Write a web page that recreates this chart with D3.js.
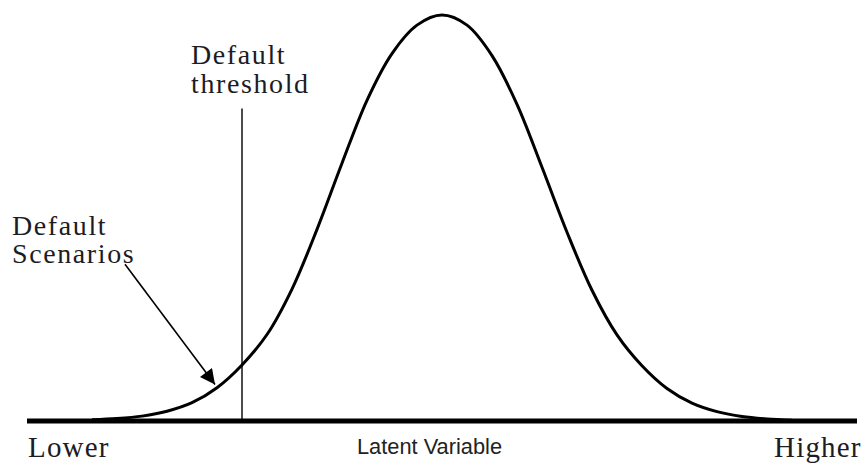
<!DOCTYPE html>
<html>
<head>
<meta charset="utf-8">
<script src="https://cdn.jsdelivr.net/npm/d3@7"></script>
<style>
  body { margin: 0; background: #fff; }
  svg { display: block; }
</style>
</head>
<body>
<svg id="chart" width="866" height="465"></svg>
<script>
// latent variable (in sd units) and curve height (share of the peak)
const latent = [-3.5, -3.25, -3, -2.75, -2.5, -2.25, -2, -1.75, -1.5, -1.25, -1, -0.75, -0.5, -0.25, 0,
                0.25, 0.5, 0.75, 1, 1.25, 1.5, 1.75, 2, 2.25, 2.5, 2.75, 3, 3.25, 3.5];
const density = [0.003, 0.006, 0.012, 0.024, 0.045, 0.082, 0.138, 0.213, 0.325, 0.472, 0.635, 0.79, 0.905, 0.975, 1.0,
                 0.975, 0.9, 0.78, 0.625, 0.465, 0.322, 0.212, 0.136, 0.08, 0.044, 0.023, 0.011, 0.005, 0.002];

const endLabels = ["Lower", "Higher"];
const axisTitle = "Latent Variable";
const thresholdLabel = ["Default", "threshold"];
const scenarioLabel = ["Default", "Scenarios"];
const thresholdAt = -2;      // where the default threshold sits
const thresholdTop = 0.77;   // how far up the threshold line goes
const arrowFrom = [-3.17, 0.386];
const arrowTo = [-2.27, 0.09];

const svg = d3.select("#chart");
const x = d3.scaleLinear().domain([-4.15, 4.15]).range([27, 857]);
const y = d3.scaleLinear().domain([0, 1]).range([421, 15]);

const serif = "'Liberation Serif', 'Times New Roman', serif";

// threshold line
svg.append("line")
  .attr("x1", x(thresholdAt)).attr("x2", x(thresholdAt))
  .attr("y1", y(thresholdTop)).attr("y2", y(0))
  .attr("stroke", "#111").attr("stroke-width", 1.5);

// the bell curve
const pts = latent.map((d, i) => [d, density[i]]);
svg.append("path")
  .datum(pts)
  .attr("fill", "none")
  .attr("stroke", "#000")
  .attr("stroke-width", 3)
  .attr("stroke-linejoin", "round")
  .attr("d", d3.line().x(d => x(d[0])).y(d => y(d[1])).curve(d3.curveCatmullRom));

// base axis
svg.append("line")
  .attr("x1", x.range()[0]).attr("x2", x.range()[1])
  .attr("y1", y(0)).attr("y2", y(0))
  .attr("stroke", "#000").attr("stroke-width", 5);

// arrow pointing at the tail
svg.append("defs").append("marker")
  .attr("id", "head")
  .attr("viewBox", "0 0 10 10")
  .attr("refX", 10).attr("refY", 5)
  .attr("markerWidth", 21).attr("markerHeight", 15)
  .attr("markerUnits", "userSpaceOnUse")
  .attr("orient", "auto")
  .append("path")
  .attr("d", "M0,0 L10,5 L0,10 Z")
  .attr("fill", "#000");

svg.append("line")
  .attr("x1", x(arrowFrom[0])).attr("y1", y(arrowFrom[1]))
  .attr("x2", x(arrowTo[0])).attr("y2", y(arrowTo[1]))
  .attr("stroke", "#000").attr("stroke-width", 1.6)
  .attr("marker-end", "url(#head)");

// labels
function label(lines, lx, ly, gap) {
  const t = svg.append("text")
    .attr("font-family", serif).attr("font-size", 28)
    .attr("letter-spacing", 1.6).attr("fill", "#1c1c24");
  lines.forEach((s, i) => {
    t.append("tspan").attr("x", lx).attr("y", ly + i * gap).text(s);
  });
}
label(thresholdLabel, 191, 64, 29);
label(scenarioLabel, 12, 235, 28);

svg.append("text")
  .attr("x", 28).attr("y", 457)
  .attr("font-family", serif).attr("font-size", 29)
  .attr("letter-spacing", 1.2).attr("fill", "#1c1c24")
  .text(endLabels[0]);
svg.append("text")
  .attr("x", 774).attr("y", 457)
  .attr("font-family", serif).attr("font-size", 29)
  .attr("letter-spacing", 1.2).attr("fill", "#1c1c24")
  .text(endLabels[1]);

svg.append("text")
  .attr("x", 357).attr("y", 454)
  .attr("font-family", "'Liberation Sans', Arial, sans-serif")
  .attr("font-size", 21.8).attr("fill", "#222")
  .text(axisTitle);
</script>
</body>
</html>
